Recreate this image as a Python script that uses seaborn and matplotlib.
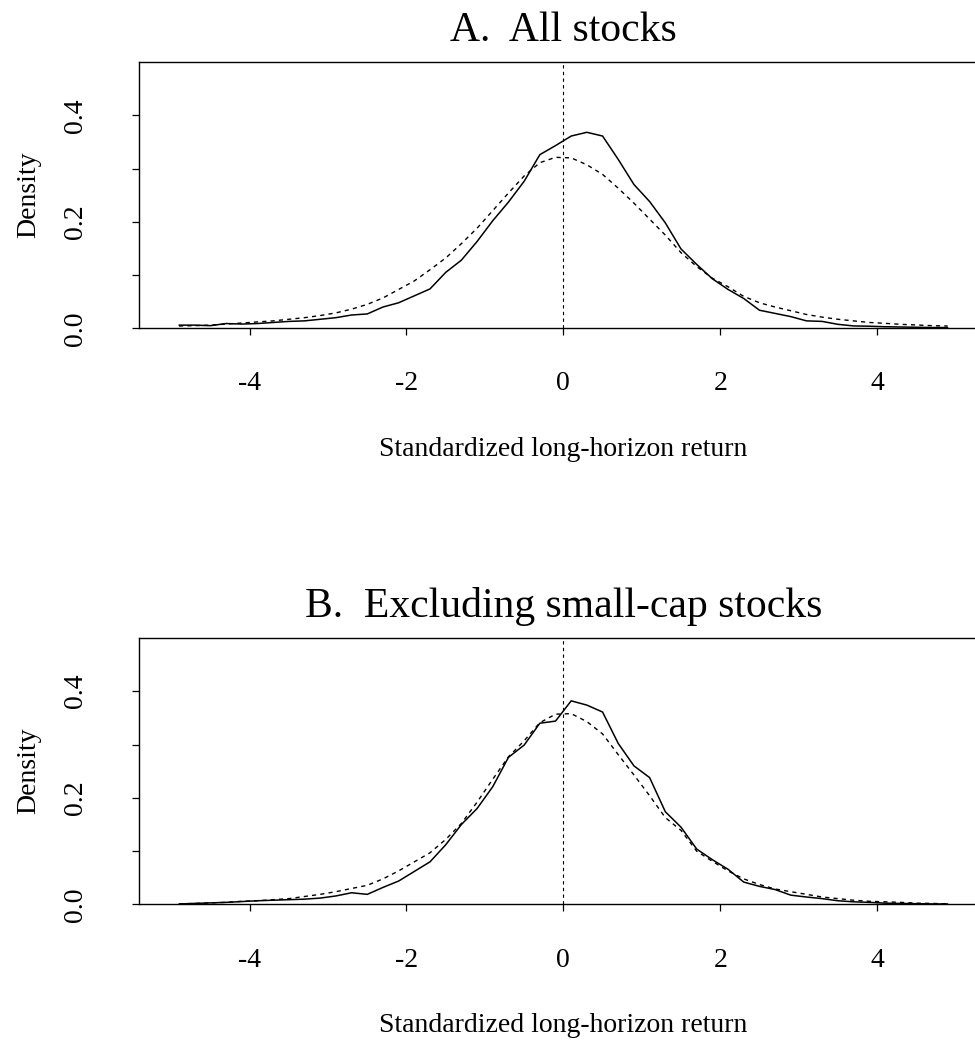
import numpy as np
import pandas as pd
import seaborn as sns
import matplotlib
matplotlib.use("Agg")
import matplotlib.pyplot as plt

# grid of standardized returns (bin midpoints)
x_grid = [-4.9, -4.7, -4.5, -4.3, -4.1, -3.9, -3.7, -3.5, -3.3, -3.1,
          -2.9, -2.7, -2.5, -2.3, -2.1, -1.9, -1.7, -1.5, -1.3, -1.1,
          -0.9, -0.7, -0.5, -0.3, -0.1, 0.1, 0.3, 0.5, 0.7, 0.9,
          1.1, 1.3, 1.5, 1.7, 1.9, 2.1, 2.3, 2.5, 2.7, 2.9,
          3.1, 3.3, 3.5, 3.7, 3.9, 4.1, 4.3, 4.5, 4.7, 4.9]

# Panel A: all stocks
a_empirical = [0.006, 0.006, 0.005, 0.009, 0.008, 0.009, 0.011, 0.013, 0.014, 0.017,
               0.020, 0.025, 0.027, 0.040, 0.048, 0.061, 0.074, 0.105, 0.128, 0.163,
               0.202, 0.237, 0.276, 0.326, 0.343, 0.361, 0.368, 0.361, 0.317, 0.270,
               0.238, 0.198, 0.149, 0.120, 0.093, 0.073, 0.056, 0.034, 0.028, 0.022,
               0.014, 0.013, 0.0075, 0.0045, 0.004, 0.003, 0.0025, 0.002, 0.0015, 0.0015]
a_reference = [0.0044, 0.005, 0.006, 0.008, 0.010, 0.012, 0.014, 0.017, 0.020, 0.024,
               0.029, 0.036, 0.045, 0.057, 0.073, 0.089, 0.110, 0.132, 0.159, 0.188,
               0.221, 0.254, 0.286, 0.311, 0.321, 0.320, 0.307, 0.289, 0.263, 0.235,
               0.205, 0.175, 0.142, 0.116, 0.094, 0.078, 0.060, 0.048, 0.040, 0.033,
               0.026, 0.021, 0.017, 0.014, 0.011, 0.0094, 0.0075, 0.0063, 0.005, 0.0044]

# Panel B: excluding small-cap stocks
b_empirical = [0.001, 0.002, 0.003, 0.004, 0.0055, 0.007, 0.008, 0.009, 0.010, 0.012,
               0.016, 0.022, 0.019, 0.032, 0.044, 0.062, 0.080, 0.112, 0.150, 0.180,
               0.221, 0.276, 0.299, 0.340, 0.344, 0.382, 0.374, 0.361, 0.302, 0.260,
               0.238, 0.174, 0.145, 0.104, 0.084, 0.066, 0.042, 0.034, 0.028, 0.0175,
               0.014, 0.011, 0.007, 0.005, 0.004, 0.0025, 0.002, 0.0015, 0.001, 0.001]
b_reference = [0.001, 0.002, 0.003, 0.004, 0.006, 0.007, 0.009, 0.011, 0.015, 0.019,
               0.024, 0.030, 0.036, 0.048, 0.063, 0.080, 0.097, 0.122, 0.152, 0.192,
               0.235, 0.277, 0.307, 0.341, 0.357, 0.358, 0.343, 0.320, 0.281, 0.243,
               0.204, 0.163, 0.139, 0.100, 0.081, 0.063, 0.048, 0.0375, 0.029, 0.024,
               0.019, 0.014, 0.011, 0.008, 0.006, 0.005, 0.004, 0.0025, 0.002, 0.0013]

titles = ["A.  All stocks", "B.  Excluding small-cap stocks"]
x_label = "Standardized long-horizon return"
y_label = "Density"
x_ticks = [-4, -2, 0, 2, 4]
y_ticks = [0.0, 0.1, 0.2, 0.3, 0.4]
y_ticklabels = ["0.0", "", "0.2", "", "0.4"]

sns.set_style("ticks")
plt.rcParams["font.family"] = ["Liberation Serif", "DejaVu Serif"]
plt.rcParams["axes.linewidth"] = 1.0
plt.rcParams["text.color"] = "black"
plt.rcParams["axes.labelcolor"] = "black"
plt.rcParams["xtick.color"] = "black"
plt.rcParams["ytick.color"] = "black"
plt.rcParams["axes.edgecolor"] = "black"

fig = plt.figure(figsize=(9.75, 10.4), dpi=100)
ax_pos = [[0.1426, 0.6843, 0.8704, 0.2561],
          [0.1426, 0.1303, 0.8704, 0.2563]]

panels = [(a_empirical, a_reference), (b_empirical, b_reference)]
for i, (emp, ref) in enumerate(panels):
    ax = fig.add_axes(ax_pos[i])
    df = pd.DataFrame({"x": x_grid, "emp": emp, "ref": ref})
    sns.lineplot(data=df, x="x", y="ref", ax=ax, color="black",
                 linewidth=1.0, linestyle=(0, (3, 3)))
    sns.lineplot(data=df, x="x", y="emp", ax=ax, color="black",
                 linewidth=1.1, linestyle="-")
    ax.axvline(0, color="black", linewidth=0.8, linestyle=(0, (3, 3)))
    ax.set_xlim(-5.41, 5.41)
    ax.set_ylim(0, 0.5)
    ax.set_xticks(x_ticks)
    ax.set_xticklabels([str(t) for t in x_ticks])
    ax.set_yticks(y_ticks)
    ax.set_yticklabels(y_ticklabels, rotation=90, va="center")
    ax.tick_params(axis="both", direction="out", length=5, width=0.9,
                   colors="black", labelsize=20)
    ax.tick_params(axis="x", pad=26)
    ax.tick_params(axis="y", pad=32)
    for sp in ax.spines.values():
        sp.set_visible(True)
        sp.set_color("black")
        sp.set_linewidth(1.0)
    ax.set_xlabel(x_label, fontsize=20, color="black")
    ax.set_ylabel(y_label, fontsize=20, color="black")
    ax.xaxis.set_label_coords(0.5, -0.408)
    ax.yaxis.set_label_coords(-0.115, 0.5)
    ax.set_title(titles[i], fontsize=30, pad=15, color="black")

fig.savefig("out.png", dpi=100)
